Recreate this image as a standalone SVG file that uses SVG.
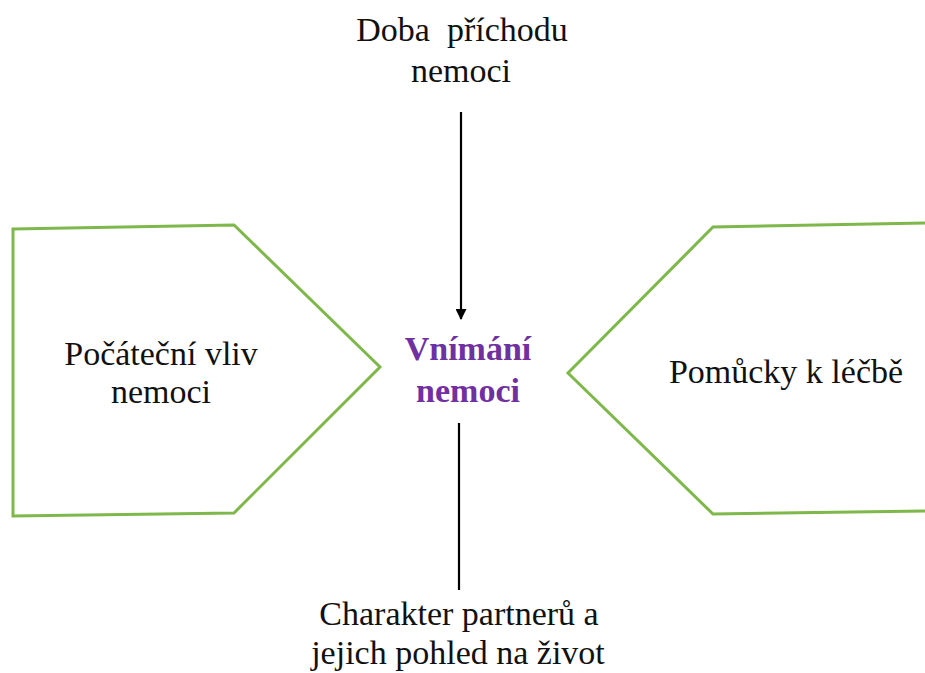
<svg xmlns="http://www.w3.org/2000/svg" width="925" height="673" viewBox="0 0 925 673">
<defs>
<marker id="ah" markerWidth="11" markerHeight="11" refX="10" refY="5.5" orient="auto" markerUnits="userSpaceOnUse">
<path d="M0,0 L11,5.5 L0,11 Z" fill="#000"/>
</marker>
</defs>
<rect width="925" height="673" fill="#fff"/>
<g id="left">
<polygon fill="#fff" stroke="#7EB74A" stroke-width="3" points="13,229 234,225 380,367 234,513 13,516"/>
<text font-family="Liberation Serif" font-size="34" fill="#111" text-anchor="middle" x="161" y="365">Počáteční vliv</text>
<text font-family="Liberation Serif" font-size="34" fill="#111" text-anchor="middle" x="161" y="403">nemoci</text>
</g>
<g id="right">
<polygon fill="#fff" stroke="#7EB74A" stroke-width="3" points="928,223 713,227 568,373 713,514 928,511"/>
<text font-family="Liberation Serif" font-size="34" fill="#111" text-anchor="middle" x="786" y="383">Pomůcky k léčbě</text>
</g>
<g id="center">
<text font-family="Liberation Serif" font-size="34" font-weight="bold" fill="#7030A0" text-anchor="middle" x="468" y="360">Vnímání</text>
<text font-family="Liberation Serif" font-size="34" font-weight="bold" fill="#7030A0" text-anchor="middle" x="468" y="402">nemoci</text>
</g>
<g id="top">
<text font-family="Liberation Serif" font-size="34" fill="#111" text-anchor="middle" x="462" y="41" xml:space="preserve">Doba  příchodu</text>
<text font-family="Liberation Serif" font-size="34" fill="#111" text-anchor="middle" x="461" y="82">nemoci</text>
</g>
<g id="bottom">
<text font-family="Liberation Serif" font-size="34" fill="#111" text-anchor="middle" x="459" y="625">Charakter partnerů a</text>
<text font-family="Liberation Serif" font-size="34" fill="#111" text-anchor="middle" x="458" y="664">jejich pohled na život</text>
</g>
<g id="connectors" stroke="#000" stroke-width="2.2" fill="none">
<line x1="461" y1="112" x2="461" y2="319" marker-end="url(#ah)"/>
<line x1="459" y1="423" x2="459" y2="590"/>
</g>
</svg>
